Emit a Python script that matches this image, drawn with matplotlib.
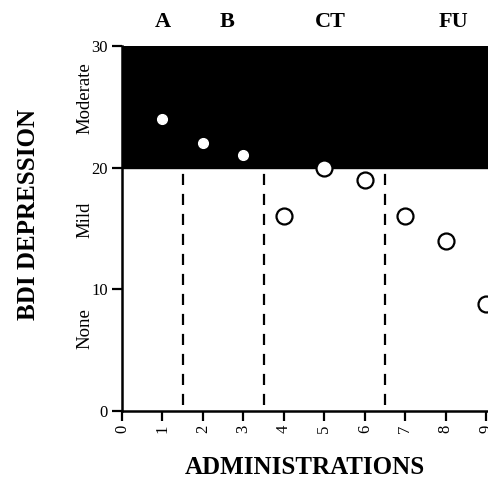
import matplotlib.pyplot as plt

plt.rcParams['font.family'] = ['Liberation Serif', 'DejaVu Serif']

# data
base_x = [1, 2, 3]
base_y = [24, 22, 21]
treat_x = [4, 5, 6, 7, 8, 9]
treat_y = [16, 20, 19, 16, 14, 8.8]
phase_breaks = [1.5, 3.5, 6.5]
phase_labels = ["A", "B", "CT", "FU"]
phase_pos = [1.0, 2.6, 5.15, 8.2]
severity_labels = ["Moderate", "Mild", "None"]
severity_pos = [25.7, 15.7, 6.8]

fig = plt.figure(figsize=(4.89, 4.84), dpi=100)
ax = fig.add_axes([0.2495, 0.1508, 0.7505, 0.7542])
ax.set_xlim(0, 9.07)
ax.set_ylim(0, 30)

# severity band
ax.axhspan(20, 30, color="black", zorder=1)

for xb in phase_breaks:
    ax.plot([xb, xb], [0.5, 19.7], color="black", lw=1.6,
            dashes=(5, 4), zorder=2)

ax.plot(base_x, base_y, "o", ms=7, mfc="white", mec="white", zorder=3)
ax.plot(treat_x, treat_y, "o", ms=11.5, mfc="white", mec="black",
        mew=1.6, zorder=3)

for s in ["top", "right"]:
    ax.spines[s].set_visible(False)
for s in ["left", "bottom"]:
    ax.spines[s].set_linewidth(1.8)

ax.set_yticks([0, 10, 20, 30])
ax.set_xticks(range(10))
ax.set_xticklabels([str(i) for i in range(10)], rotation=90)
ax.tick_params(axis="both", direction="out", length=7, width=1.6,
               labelsize=12, pad=3)

for lab, xp in zip(phase_labels, phase_pos):
    ax.text(xp, 32.0, lab, ha="center", va="center", fontsize=16,
            fontweight="bold")

for lab, yp in zip(severity_labels, severity_pos):
    ax.text(-0.92, yp, lab, ha="center", va="center", rotation=90,
            fontsize=13.5)

fig.text(0.058, 0.556, "BDI DEPRESSION", rotation=90, ha="center",
         va="center", fontsize=18, fontweight="bold")
fig.text(0.623, 0.035, "ADMINISTRATIONS", ha="center", va="center",
         fontsize=18, fontweight="bold")

fig.savefig("out.png", dpi=100)
